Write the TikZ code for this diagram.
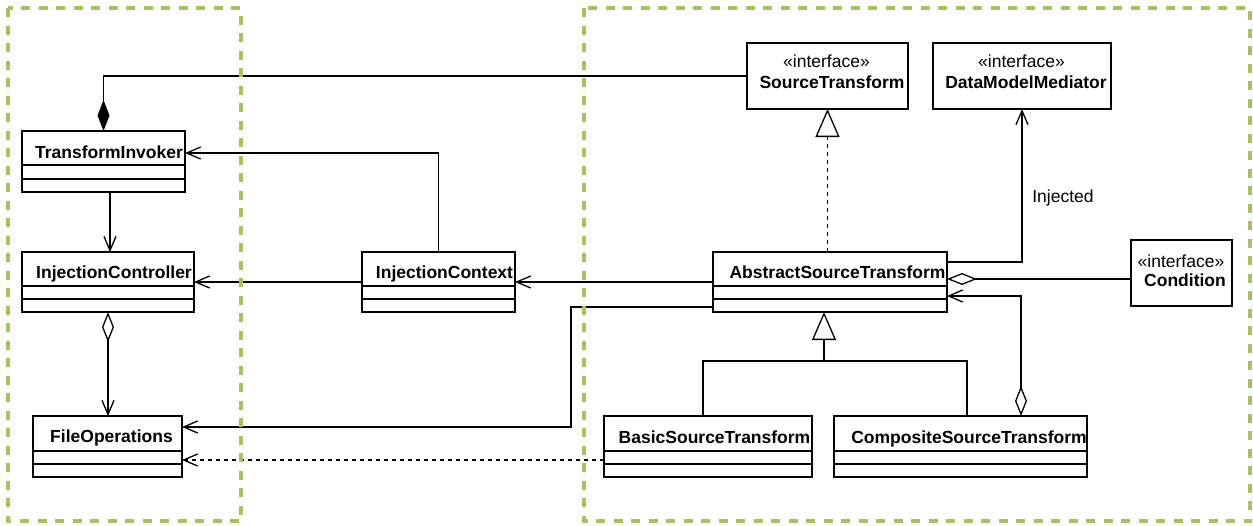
\documentclass[tikz,border=0pt]{standalone}
\usepackage{fontspec}
\setmainfont{Liberation Sans}
\usetikzlibrary{arrows.meta}
\definecolor{grp}{RGB}{162,196,90}
\newcommand\umlclassbox[7]{%
  \node[umlbox, minimum width=#4pt, minimum height=#5pt] (#1) at (#2,#3) {};
  \draw (#1.north west) ++(0,#6) -- ++(#4,0);
  \draw (#1.north west) ++(0,#7) -- ++(#4,0);
}
\begin{document}
\begin{tikzpicture}[x=1pt,y=-1pt,line width=1.3pt,
  every node/.style={font=\fontsize{17.5}{21}\selectfont, inner sep=0pt},
  cname/.style={font=\bfseries\fontsize{17.5}{21}\selectfont, anchor=base, inner sep=0pt},
  stereo/.style={anchor=base, inner sep=0pt},
  umlbox/.style={draw, anchor=north west, inner sep=0pt, outer sep=0pt},
  barb/.tip={Straight Barb[length=14pt,width=12pt]},
  odiam/.tip={Diamond[open,length=30pt,width=12pt]},
  fdiam/.tip={Diamond[length=31pt,width=12pt]},
  otri/.tip={Triangle[open,length=28pt,width=24pt]},
  group/.style={draw=grp, line width=4pt, dash pattern=on 9pt off 8.5pt},
  dep/.style={dash pattern=on 4pt off 4pt}]
\useasboundingbox (0,0) rectangle (1253,525);

% class boxes
\umlclassbox{ti}{22}{131}{163}{61}{34}{48}
\umlclassbox{icon}{22}{252}{172}{60}{34}{47}
\umlclassbox{fo}{33}{416}{149}{61}{35}{48}
\umlclassbox{ic}{362}{252}{153}{60}{34}{47}
\umlclassbox{ast}{713}{252}{234}{60}{34}{47}
\umlclassbox{bst}{604}{416}{208}{61}{35}{48}
\umlclassbox{cst}{834}{416}{253}{61}{35}{48}
\node[umlbox, minimum width=161pt, minimum height=66pt] (st) at (747,43) {};
\node[umlbox, minimum width=178pt, minimum height=66pt] (dmm) at (933,43) {};
\node[umlbox, minimum width=101pt, minimum height=66pt] (cond) at (1131,240) {};

% texts
\node[cname] (ti-n) at (109,158) {TransformInvoker};
\node[cname] (icon-n) at (114,278) {InjectionController};
\node[cname] (fo-n) at (111.5,442) {FileOperations};
\node[cname] (ic-n) at (444.5,278) {InjectionContext};
\node[cname] (ast-n) at (837.5,278) {AbstractSourceTransform};
\node[cname] (bst-n) at (714.5,443) {BasicSourceTransform};
\node[cname] (cst-n) at (969,443) {CompositeSourceTransform};
\node[stereo] (st-s) at (826.5,67) {«interface»};
\node[cname] (st-n) at (832,88) {SourceTransform};
\node[stereo] (dmm-s) at (1021.5,67) {«interface»};
\node[cname] (dmm-n) at (1026,88) {DataModelMediator};
\node[stereo] (cond-s) at (1181,267) {«interface»};
\node[cname] (cond-n) at (1185,286) {Condition};
\node[stereo] (inj) at (1063,202) {Injected};

% connectors
\draw[-fdiam] (st.west) -| (ti.north);
\draw[-barb] (ic.north) |- ([yshift=8.5pt]ti.east);
\draw[-barb] ([xshift=6.5pt]ti.south) -- ([xshift=6.5pt]ti.south |- icon.north);
\draw[-barb] (ic.west) -- (icon.east);
\draw[-barb] (ast.west) -- (ic.east);
\draw[odiam-barb] (icon.south) -- (icon.south |- fo.north);
\draw[-barb] ([yshift=-25pt]ast.west) -- ++(-142,0) |- ([yshift=19.5pt]fo.east);
\draw[dep,-barb] ([yshift=-13.5pt]bst.west) -- ([yshift=-13.5pt]fo.east);
\draw[dep,-otri] (st.south |- ast.north) -- (st.south);
\draw[-barb] ([yshift=20pt]ast.east) -| (dmm.south);
\draw[odiam-] ([yshift=3pt]ast.east) -- ([yshift=3pt]ast.east -| cond.west);
\draw[odiam-barb] ([xshift=60.5pt]cst.north) |- ([yshift=-14pt]ast.east);
\coordinate (gj) at (824,361);
\draw ([xshift=-5pt]bst.north) |- (gj);
\draw ([xshift=6.5pt]cst.north) |- (gj);
\draw[-otri] (gj) -- (gj |- ast.south);

% groups
\draw[group] (8,8) rectangle (241,521);
\draw[group] (584,8) rectangle (1250,521);
\end{tikzpicture}
\end{document}
